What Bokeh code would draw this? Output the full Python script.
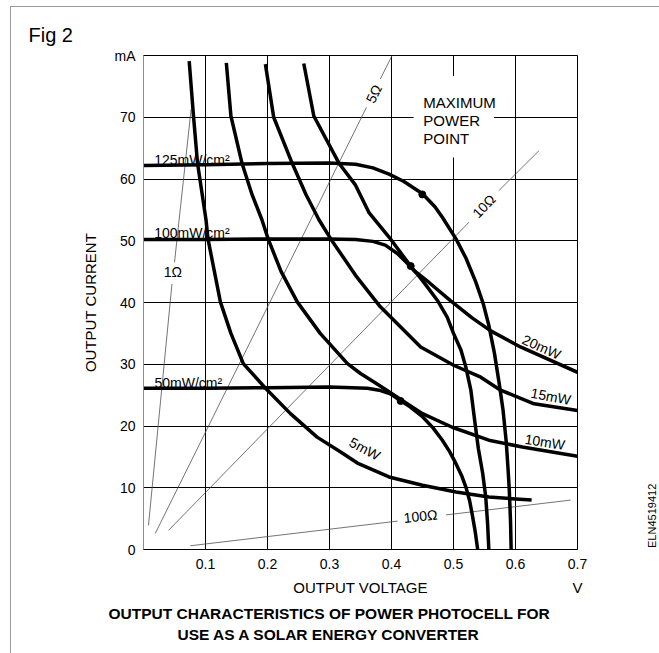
from bokeh.plotting import figure
from bokeh.models import FixedTicker, Range1d, LinearAxis, Title
from bokeh.layouts import row
from bokeh.embed import file_html
from bokeh.resources import INLINE
from bokeh.core.properties import value

FONT = "Liberation Sans"

# ---------------- data ----------------
x_ticks = [0.1, 0.2, 0.3, 0.4, 0.5, 0.6, 0.7]
y_ticks = [0, 10, 20, 30, 40, 50, 60, 70, 80]
y_unit_label = "mA"
x_unit_label = "V"
x_title = "OUTPUT VOLTAGE"
y_title = "OUTPUT CURRENT"
fig_title = "Fig 2"
caption = ["OUTPUT CHARACTERISTICS OF POWER PHOTOCELL FOR", "USE AS A SOLAR ENERGY CONVERTER"]
ref_code = "ELN4519412"

# irradiance curves (V, mA)
v125 = [0.000, 0.100, 0.200, 0.300, 0.342, 0.370, 0.396, 0.420, 0.450, 0.470, 0.482, 0.504,
        0.520, 0.536, 0.548, 0.557, 0.566, 0.574, 0.580, 0.585, 0.588, 0.590, 0.592, 0.593]
i125 = [62.2, 62.3, 62.5, 62.6, 62.4, 61.8, 60.8, 59.6, 57.6, 55.5, 53.8, 50.3,
        47.2, 43.3, 39.8, 36.3, 31.8, 26.7, 22.5, 17.5, 13.0, 9.6, 4.5, 0.0]

v100 = [0.000, 0.100, 0.200, 0.300, 0.342, 0.370, 0.390, 0.410, 0.431, 0.445, 0.458, 0.475,
        0.490, 0.500, 0.512, 0.520, 0.528, 0.534, 0.540, 0.547, 0.552, 0.555, 0.557]
i100 = [50.2, 50.2, 50.3, 50.3, 50.2, 49.9, 49.3, 47.9, 45.8, 44.2, 42.5, 40.2,
        37.6, 35.0, 32.3, 29.5, 25.8, 21.0, 16.4, 12.4, 8.5, 4.2, 0.0]

v50 = [0.000, 0.100, 0.200, 0.300, 0.361, 0.380, 0.398, 0.415, 0.430, 0.450, 0.467, 0.482,
       0.494, 0.504, 0.513, 0.520, 0.526, 0.530, 0.535, 0.539]
i50 = [26.1, 26.1, 26.2, 26.3, 26.1, 25.8, 25.2, 24.1, 23.1, 21.5, 19.7, 17.7,
       15.8, 13.9, 12.0, 10.1, 7.9, 5.8, 2.9, 0.0]

irr_labels = ["125mW/cm\u00b2", "100mW/cm\u00b2", "50mW/cm\u00b2"]
irr_label_v = [0.0173, 0.0173, 0.0178]
irr_label_i = [63.1, 51.3, 27.0]

# constant-power curves
v5 = [0.0737, 0.0808, 0.0872, 0.1008, 0.104, 0.124, 0.141, 0.161, 0.196, 0.237, 0.280, 0.318,
      0.345, 0.396, 0.450, 0.504, 0.557, 0.626]
i5 = [79.1, 70.0, 62.5, 53.4, 50.3, 40.1, 35.0, 30.1, 26.2, 22.0, 18.2, 15.8,
      14.0, 11.75, 10.4, 9.3, 8.5, 8.0]

v10 = [0.1336, 0.141, 0.159, 0.175, 0.191, 0.201, 0.222, 0.248, 0.285, 0.329, 0.350, 0.380,
       0.415, 0.450, 0.498, 0.557, 0.611, 0.700]
i10 = [78.8, 70.2, 62.5, 57.5, 53.4, 50.3, 45.0, 40.1, 35.0, 30.1, 28.5, 26.6,
       24.3, 22.0, 19.8, 17.7, 16.6, 15.1]

v15 = [0.1966, 0.210, 0.240, 0.262, 0.283, 0.302, 0.342, 0.382, 0.447, 0.501, 0.544, 0.576,
       0.630, 0.700]
i15 = [78.6, 70.0, 62.5, 57.5, 53.4, 50.3, 44.4, 39.3, 32.8, 29.8, 27.9, 25.8,
       23.6, 22.5]

v20 = [0.2585, 0.2747, 0.315, 0.342, 0.364, 0.396, 0.436, 0.461, 0.495, 0.530, 0.560, 0.608, 0.700]
i20 = [78.7, 70.2, 62.6, 59.0, 54.5, 50.6, 45.2, 43.2, 40.3, 37.5, 35.4, 32.8, 28.7]

pow_labels = ["5mW", "10mW", "15mW", "20mW"]
pow_label_v = [0.357, 0.6474, 0.657, 0.642]
pow_label_i = [16.3, 17.4, 24.8, 32.8]
pow_label_deg = [-28, -9, -11, -24]

# load lines (segments, broken where the label sits)
load_v = [[0.008, 0.0459], [0.050, 0.0768],
          [0.019, 0.3596], [0.382, 0.401],
          [0.0404, 0.525], [0.573, 0.638],
          [0.0754, 0.410], [0.488, 0.689]]
load_i = [[3.9, 43.0], [46.5, 71.3],
          [2.6, 71.6], [76.2, 80.0],
          [3.1, 53.0], [58.1, 64.6],
          [0.6, 4.6], [5.6, 8.0]]
load_labels = ["1\u03a9", "5\u03a9", "10\u03a9", "100\u03a9"]
load_label_v = [0.0475, 0.3716, 0.549, 0.447]
load_label_i = [44.9, 73.8, 55.6, 5.4]
load_label_deg = [0, 63.7, 45.8, 6]

# maximum power points
mpp_v = [0.4497, 0.431, 0.4147]
mpp_i = [57.5, 45.9, 24.05]
mpp_text = ["MAXIMUM", "POWER", "POINT"]

# ---------------- main figure ----------------
p = figure(frame_width=434, frame_height=494, x_range=Range1d(0, 0.7), y_range=Range1d(0, 80),
           output_backend="svg", toolbar_location=None,
           min_border_left=132, min_border_right=66, min_border_top=48, min_border_bottom=104,
           background_fill_color="white", border_fill_color="white")

p.title.text = fig_title
p.title.align = "left"
p.title.offset = -115
p.title.vertical_align = "middle"
p.title.standoff = 18
p.title.text_font = FONT
p.title.text_font_size = "20px"
p.title.text_font_style = "normal"
p.title.text_color = "black"

p.outline_line_color = "black"
p.outline_line_width = 1

for ax in (p.xaxis, p.yaxis):
    ax.major_tick_line_color = None
    ax.minor_tick_line_color = None
    ax.major_tick_out = 0
    ax.major_tick_in = 0
    ax.minor_tick_out = 0
    ax.minor_tick_in = 0
    ax.major_label_text_font = FONT
    ax.major_label_text_font_size = "14px"
    ax.major_label_text_color = "black"
    ax.axis_label_text_font = FONT
    ax.axis_label_text_font_size = "15px"
    ax.axis_label_text_font_style = "normal"
    ax.axis_label_text_color = "black"

p.xaxis.ticker = FixedTicker(ticks=x_ticks)
p.yaxis.ticker = FixedTicker(ticks=y_ticks)
p.yaxis.major_label_overrides = {80: y_unit_label}
p.xaxis.axis_line_color = "black"
p.yaxis.axis_line_color = "#8c8c8c"
p.xaxis.major_label_standoff = 9
p.yaxis.major_label_standoff = 8
p.yaxis.axis_label = y_title
p.yaxis.axis_label_standoff = 13

# second bottom axis carrying the axis title and the unit on one line
xaxis2 = LinearAxis(ticker=FixedTicker(ticks=[0.35, 0.7]),
                    major_label_overrides={0.35: x_title, 0.7: x_unit_label},
                    axis_line_color=None, major_tick_line_color=None, minor_tick_line_color=None,
                    major_tick_out=0, major_tick_in=0, minor_tick_out=0, minor_tick_in=0,
                    major_label_standoff=7, major_label_text_font=FONT,
                    major_label_text_font_size="15px", major_label_text_color="black")
p.add_layout(xaxis2, "below")

for line, off, so in zip(caption, [-35, 34], [8, -4]):
    try:
        t = Title(text=line, align="left", offset=off, text_font=FONT,
                  text_font_size="15.5px", text_font_style="bold", text_color="black",
                  standoff=so)
    except Exception:
        t = Title(text=line, align="left", offset=off, text_font=FONT,
                  text_font_size="15.5px", text_font_style="bold", text_color="black",
                  standoff=0)
    p.add_layout(t, "below")

p.xgrid.ticker = FixedTicker(ticks=x_ticks[:-1])
p.ygrid.ticker = FixedTicker(ticks=y_ticks[1:-1])
for g in (p.xgrid, p.ygrid):
    g.grid_line_color = "black"
    g.grid_line_width = 1
    g.grid_line_alpha = 1

# white box that interrupts the grid around the "MAXIMUM POWER POINT" note
p.quad(left=[0.4357], right=[0.5654], bottom=[63.5], top=[76.7],
       fill_color="white", line_color=None)

# load lines and their labels
p.multi_line(xs=load_v, ys=load_i, line_color="#505050", line_width=0.8)
p.text(x=load_label_v, y=load_label_i, text=load_labels, angle=load_label_deg, angle_units="deg",
       text_font=value(FONT), text_font_size="14px", text_color="black",
       text_align="center", text_baseline="middle")

# curve labels
p.text(x=irr_label_v, y=irr_label_i, text=irr_labels,
       text_font=value(FONT), text_font_size="14px", text_color="black",
       text_align="left", text_baseline="alphabetic")
p.text(x=pow_label_v, y=pow_label_i, text=pow_labels, angle=pow_label_deg, angle_units="deg",
       text_font=value(FONT), text_font_size="14px", text_color="black",
       text_align="center", text_baseline="middle")
p.text(x=[0.4514] * 3, y=[72.4, 69.47, 66.55], text=mpp_text,
       text_font=value(FONT), text_font_size="15px", text_color="black",
       text_align="left", text_baseline="alphabetic")

# thick curves
for vs, cs in [(v125, i125), (v100, i100), (v50, i50), (v5, i5), (v10, i10), (v15, i15), (v20, i20)]:
    p.line(vs, cs, line_color="black", line_width=3.5, line_join="round")

p.scatter(mpp_v, mpp_i, size=7, color="black")

# ---------------- narrow strip on the right for the reference code ----------------
p2 = figure(width=16, height=646, x_range=Range1d(0, 1), y_range=Range1d(653, 7),
            output_backend="svg", toolbar_location=None, min_border=0,
            x_axis_location=None, y_axis_location=None,
            background_fill_color="white", border_fill_color="white")
p2.outline_line_color = None
p2.grid.visible = False
p2.text(x=[0.5], y=[609], text=[ref_code], angle=[90], angle_units="deg",
        text_font=value(FONT), text_font_size="11px", text_color="black",
        text_align="center", text_baseline="middle")

layout = row(p, p2, margin=(6, 0, 0, 10),
             styles={"border-left": "1px solid #9a9a9a", "border-top": "1px solid #9a9a9a"})
open("out.html", "w").write(file_html(layout, INLINE))
